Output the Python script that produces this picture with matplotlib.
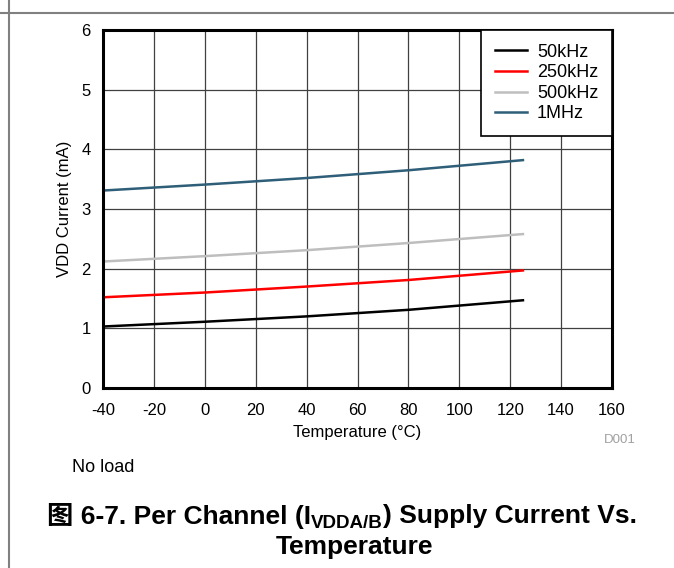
import numpy as np
import matplotlib.pyplot as plt
from matplotlib.lines import Line2D

plt.rcParams['font.family'] = ['Liberation Sans', 'Noto Sans CJK SC', 'DejaVu Sans']
plt.rcParams['axes.unicode_minus'] = False

# data
temps = [-40, 0, 40, 80, 125]
i_50k = [1.03, 1.11, 1.20, 1.31, 1.47]
i_250k = [1.52, 1.60, 1.70, 1.81, 1.97]
i_500k = [2.12, 2.21, 2.31, 2.43, 2.58]
i_1M = [3.31, 3.41, 3.52, 3.65, 3.82]
labels = ['50kHz', '250kHz', '500kHz', '1MHz']
colors = ['#000000', '#FF0000', '#BEBEBE', '#2E5E78']

fig = plt.figure(figsize=(6.74, 5.68), dpi=100)
ax = fig.add_axes([0.153, 0.317, 0.755, 0.630])

for y, lab, c in zip([i_50k, i_250k, i_500k, i_1M], labels, colors):
    ax.plot(temps, y, color=c, lw=1.8, label=lab)

ax.set_xlim(-40, 160)
ax.set_ylim(0, 6)
ax.set_xticks(np.arange(-40, 161, 20))
ax.set_yticks(np.arange(0, 7, 1))
ax.tick_params(length=0, labelsize=12)
ax.tick_params(axis='x', pad=11)
ax.tick_params(axis='y', pad=9)
ax.grid(True, color='#404040', lw=0.9)
for s in ax.spines.values():
    s.set_linewidth(2.2)
ax.set_xlabel('Temperature (°C)', fontsize=12, labelpad=5)
ax.set_ylabel('VDD Current (mA)', fontsize=12, labelpad=7)

leg = ax.legend(loc='upper right', fontsize=13, frameon=True, fancybox=False,
                edgecolor='black', framealpha=1, borderaxespad=0,
                handlelength=1.8, labelspacing=0.2, borderpad=0.75,
                handletextpad=0.55)
leg.get_frame().set_linewidth(1.2)

# page frame lines
fig.add_artist(Line2D([9/674, 9/674], [0, 1], color='#808080', lw=1.5))
fig.add_artist(Line2D([0, 1], [1 - 13/568, 1 - 13/568], color='#808080', lw=1.5))

fig.text(620/674, 1 - 440/568, 'D001', fontsize=9.5, color='#A0A0A0', ha='center', va='center')
fig.text(72/674, 1 - 468/568, 'No load', fontsize=13, ha='left', va='center')

# caption with manual subscript
fig.canvas.draw()
r = fig.canvas.get_renderer()
parts = [('图 6-7. Per Channel (I', 19, 0), ('VDDA/B', 13.5, -7), (') Supply Current Vs.', 19, 0)]
y1 = 1 - 516/568
objs = []
for txt, fs, dy in parts:
    t = fig.text(0, y1, txt, fontsize=fs, fontweight='bold', ha='left', va='center')
    objs.append((t, dy))
widths = [t.get_window_extent(renderer=r).width for t, dy in objs]
x0 = 342 - sum(widths) / 2
for (t, dy), w in zip(objs, widths):
    t.set_position((x0 / 674, y1 + dy / 568))
    x0 += w
fig.text(355/674, 1 - 547/568, 'Temperature', fontsize=19, fontweight='bold', ha='center', va='center')

fig.savefig('out.png', dpi=100)
